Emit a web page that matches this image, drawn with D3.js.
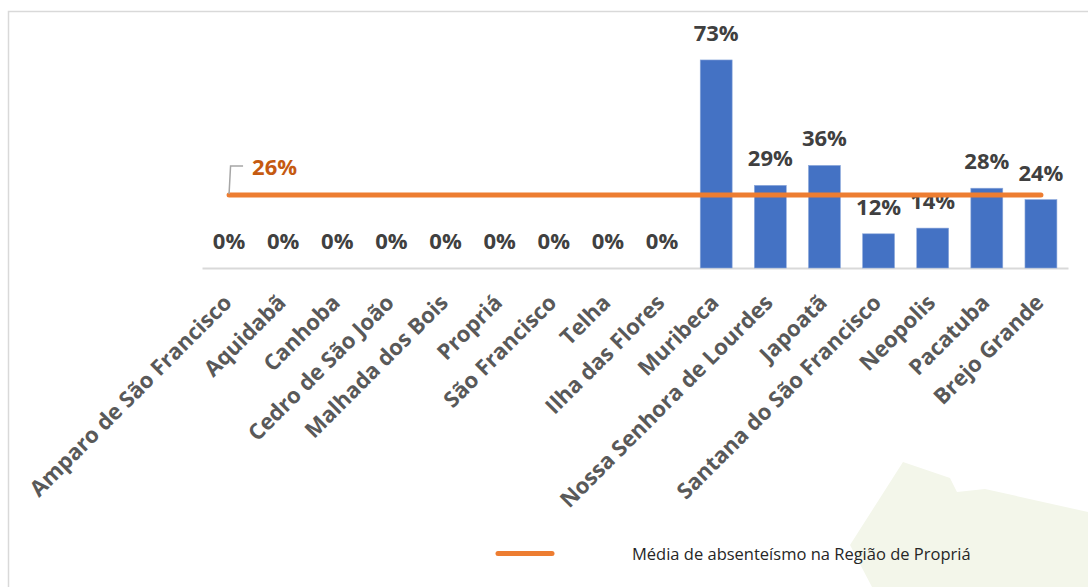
<!DOCTYPE html>
<html>
<head>
<meta charset="utf-8">
<script src="https://cdn.jsdelivr.net/npm/d3@7"></script>
<style>
  html, body { margin: 0; padding: 0; background: #fff; }
  svg { display: block; }
  text { font-family: "Open Sans", "Noto Sans", sans-serif; }
</style>
</head>
<body>
<svg id="chart" width="1088" height="587"></svg>
<script>
const categories = [
  "Amparo de São Francisco", "Aquidabã", "Canhoba", "Cedro de São João",
  "Malhada dos Bois", "Propriá", "São Francisco", "Telha", "Ilha das Flores",
  "Muribeca", "Nossa Senhora de Lourdes", "Japoatã", "Santana do São Francisco",
  "Neopolis", "Pacatuba", "Brejo Grande"
];
const absenteeism = [0, 0, 0, 0, 0, 0, 0, 0, 0, 73, 29, 36, 12, 14, 28, 24];
const regionAverage = 25.6;
const seriesNames = ["Absenteísmo", "Média de absenteísmo na Região de Propriá"];

const svg = d3.select("#chart");
const pct = v => Math.round(v) + "%";

// decorative background shape (lower right)
svg.append("path")
  .attr("d", "M903,462 L950,478 L957,492 L985,489 L1088,512 L1088,587 L872,587 L850,545 Z")
  .attr("fill", "#F3F6EA");

// chart frame
svg.append("rect")
  .attr("x", 8.5).attr("y", 11.5).attr("width", 1100).attr("height", 600)
  .attr("fill", "none").attr("stroke", "#D9D9D9").attr("stroke-width", 1.5);

const x = d3.scaleBand().domain(categories).range([202, 1068]).paddingInner(0.41).paddingOuter(0.205);
const y = d3.scaleLinear().domain([0, 80]).range([268, 40]);

// baseline axis
const xAxis = d3.axisBottom(x).tickSize(0).tickFormat("");
const gx = svg.append("g").attr("transform", "translate(0,268)").call(xAxis);
gx.select(".domain").attr("stroke", "#D9D9D9").attr("stroke-width", 2);

// bars
svg.append("g").selectAll("rect").data(absenteeism).join("rect")
  .attr("x", (d, i) => x(categories[i]))
  .attr("y", d => y(d))
  .attr("width", x.bandwidth())
  .attr("height", d => y(0) - y(d))
  .attr("fill", "#4472C4")
  .attr("stroke", "#8EA9DB").attr("stroke-width", 0.6);

// bar value labels
svg.append("g").selectAll("text").data(absenteeism).join("text")
  .attr("x", (d, i) => x(categories[i]) + x.bandwidth() / 2)
  .attr("y", d => y(d) - 19)
  .attr("text-anchor", "middle")
  .attr("font-size", 22).attr("font-weight", 700)
  .attr("fill", "#404040")
  .text(d => pct(d));

// average line
const cx = c => x(c) + x.bandwidth() / 2;
const avgData = categories.map(c => ({ c, v: regionAverage }));
svg.append("path")
  .datum(avgData)
  .attr("d", d3.line().x(d => cx(d.c)).y(d => y(d.v)))
  .attr("fill", "none").attr("stroke", "#ED7D31")
  .attr("stroke-width", 5).attr("stroke-linecap", "round");

// average label with leader
const ax = cx(categories[0]), ay = y(regionAverage);
svg.append("path")
  .attr("d", `M${ax},${ay - 1} L${ax + 1.5},${ay - 29} L${ax + 14},${ay - 29}`)
  .attr("fill", "none").attr("stroke", "#A6A6A6").attr("stroke-width", 1.5);
svg.append("text")
  .attr("x", ax + 23).attr("y", ay - 20)
  .attr("font-size", 22).attr("font-weight", 700)
  .attr("fill", "#C55A11")
  .text(pct(regionAverage));

// category labels rotated
svg.append("g").selectAll("text").data(categories).join("text")
  .attr("transform", c => `translate(${cx(c) + 4},${304}) rotate(-45)`)
  .attr("text-anchor", "end")
  .attr("font-size", 22).attr("font-weight", 700)
  .attr("fill", "#595959")
  .text(c => c);

// legend
svg.append("line")
  .attr("x1", 498).attr("x2", 552).attr("y1", 553.5).attr("y2", 553.5)
  .attr("stroke", "#ED7D31").attr("stroke-width", 5).attr("stroke-linecap", "round");
svg.append("text")
  .attr("x", 632).attr("y", 559.5)
  .attr("font-size", 16.5).attr("fill", "#262626")
  .text(seriesNames[1]);
</script>
</body>
</html>
